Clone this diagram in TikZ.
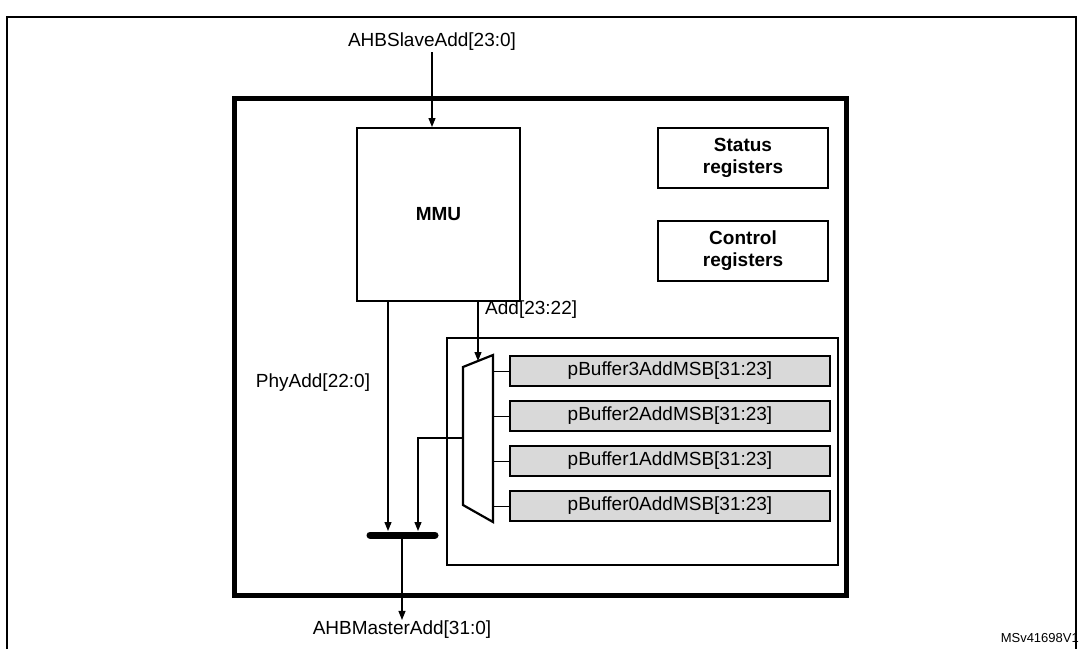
\documentclass[tikz,border=0pt]{standalone}
\usepackage{fontspec}
\setmainfont{Liberation Sans}
\usetikzlibrary{positioning, arrows.meta}
\tikzset{sig/.style={draw,line width=1.2pt,-{Triangle[length=9pt,width=7pt]}},
         blk/.style={draw,line width=2pt,align=center,font=\fontsize{19}{22}\selectfont\bfseries},
         reg/.style={draw,line width=2.4pt,fill=gray!30,minimum width=320pt,minimum height=30pt,inner sep=0pt,font=\fontsize{19}{22}\selectfont},
         lbl/.style={font=\fontsize{19}{22}\selectfont,inner sep=1pt},
        }

\begin{document}
\begin{tikzpicture}[x=1pt,y=-1pt]
        \useasboundingbox (0,0) rectangle (1079,649);
        \draw[line width=1.5pt](7,649)--(7,17)--(1076,17)--(1076,649);
        \draw[line width=5pt](234,98)rectangle(846,595);

        \node[blk,minimum width=163pt,minimum height=173pt](mmu)at(438.5,214.5){MMU};
        \node[blk,minimum width=170pt,minimum height=60pt](stat)at(743,158){Status\\registers};
        \node[blk,minimum width=170pt,minimum height=60pt](ctrl)at(743,251){Control\\registers};
        \draw[line width=2pt](447,338)rectangle(838,565);

        \node[reg](b3)at(670,371){pBuffer3AddMSB[31:23]};
        \node[reg](b2)at(670,416){pBuffer2AddMSB[31:23]};
        \node[reg](b1)at(670,461){pBuffer1AddMSB[31:23]};
        \node[reg](b0)at(670,506){pBuffer0AddMSB[31:23]};

        % multiplexer
        \draw[line width=2.2pt](463,367)coordinate(mux)--(493,355)--(493,522)--(463,505)--cycle;
        \foreach \n/\y in {b3/371,b2/416,b1/461,b0/506}
            \draw[line width=1pt](493,\y)--(\n.west);

        % bus join
        \draw[line width=7pt,line cap=round](370,535)--(435,535);
        \coordinate(bus)at(402,535);

        \node[lbl](slv)at(432,42){AHBSlaveAdd[23:0]};
        \node[lbl](mst)at(402,630){AHBMasterAdd[31:0]};
        \node[lbl](phy)at(313,383){PhyAdd[22:0]};
        \node[lbl,anchor=west](add)at(484,310){Add[23:22]};
        \node[font=\fontsize{13}{15}\selectfont,anchor=south east,inner sep=0pt](id)at(1079,643){MSv41698V1};

        \draw[sig](slv.south)--(mmu.north -| slv.south);
        \draw[sig](mmu.south -| 388,0)--(388,531);
        \draw[sig](mmu.south -| 478,0)--(478,361);
        \draw[sig](463,438)--(418,438)--(418,531);
        \draw[sig](bus)--(mst.north);
    \end{tikzpicture}
\end{document}
